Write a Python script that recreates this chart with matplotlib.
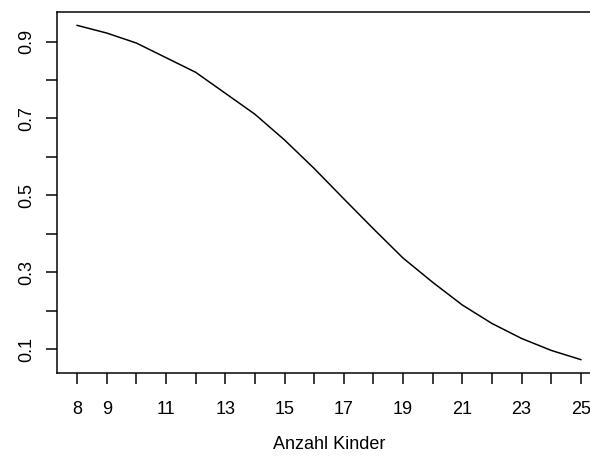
import matplotlib
matplotlib.use("Agg")
import matplotlib.pyplot as plt
import numpy as np

# Data
kinder = [8, 9, 10, 12, 14, 15, 16, 17, 18, 19, 20, 21, 22, 23, 24, 25]
prob = [0.942, 0.922, 0.896, 0.820, 0.711, 0.644, 0.570, 0.491, 0.413, 0.337,
        0.274, 0.215, 0.167, 0.128, 0.097, 0.073]

x_ticks = list(range(8, 26))
x_labels = ["8", "9", "", "11", "", "13", "", "15", "", "17", "", "19", "", "21", "", "23", "", "25"]
y_ticks = [0.1, 0.2, 0.3, 0.4, 0.5, 0.6, 0.7, 0.8, 0.9]
y_labels = ["0.1", "", "0.3", "", "0.5", "", "0.7", "", "0.9"]
xlabel = "Anzahl Kinder"

plt.rcParams['font.family'] = ['Liberation Sans', 'DejaVu Sans']

W, H = 590, 461
fig = plt.figure(figsize=(W / 100, H / 100), dpi=100)
left, right, top, bottom = 57, 601, 12, 373
ax = fig.add_axes([left / W, (H - bottom) / H, (right - left) / W, (bottom - top) / H])

ax.plot(kinder, prob, color="black", lw=1.08)

xr = max(kinder) - min(kinder)
ax.set_xlim(min(kinder) - 0.04 * xr, max(kinder) + 0.04 * xr)
yr = max(prob) - min(prob)
ax.set_ylim(min(prob) - 0.04 * yr, max(prob) + 0.04 * yr)

ax.set_xticks(x_ticks)
ax.set_xticklabels(x_labels)
ax.set_yticks(y_ticks)
ax.set_yticklabels(y_labels, rotation=90, va="center")

for s in ax.spines.values():
    s.set_linewidth(1.08)
    s.set_color("black")

ax.tick_params(axis="both", length=7.9, width=1.08, labelsize=13, color="black")
ax.tick_params(axis="x", pad=12)
ax.tick_params(axis="y", pad=8)

ax.set_xlabel(xlabel, fontsize=13, labelpad=13)

fig.savefig("out.png", dpi=100)
